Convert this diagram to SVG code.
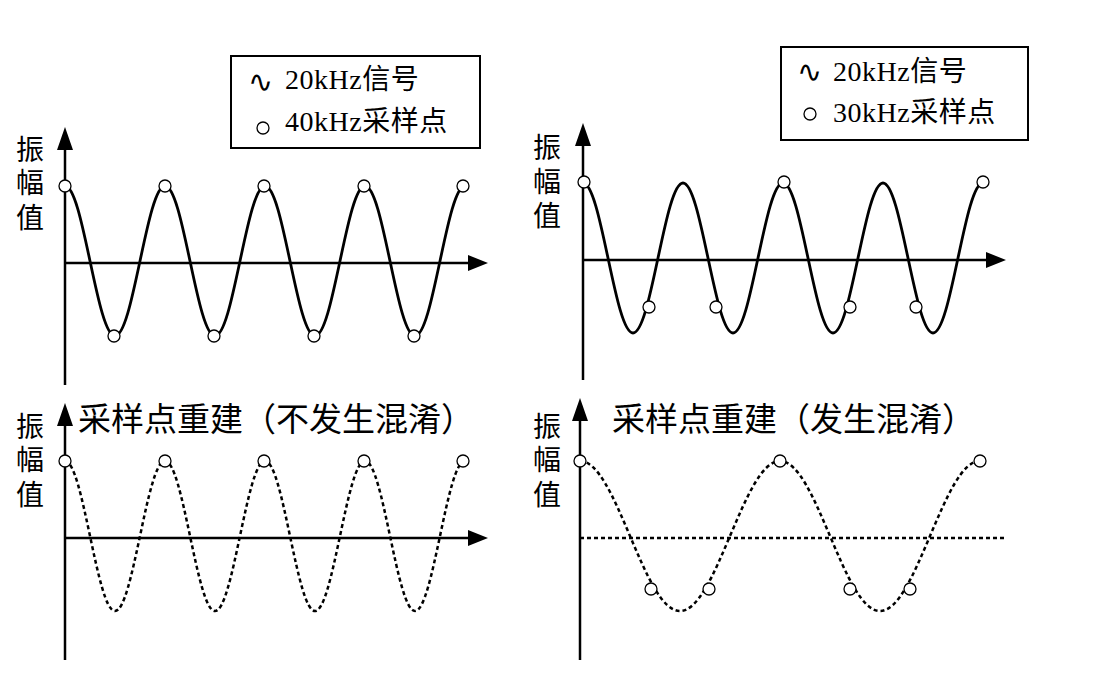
<svg xmlns="http://www.w3.org/2000/svg" xmlns:xlink="http://www.w3.org/1999/xlink" width="1110" height="676" viewBox="0 0 1110 676">
<style>
text{font-family:"Liberation Serif","Noto Sans CJK SC",serif;fill:#000}
.lab{font-size:28px}
.leg{font-size:28px;letter-spacing:0.5px}
.ttl{font-size:33px}
.wv{font-family:"DejaVu Sans",sans-serif;font-size:30px}
.ax{stroke:#000;stroke-width:2.5;fill:none}
.w{stroke:#000;stroke-width:2.8;fill:none}
.d{stroke:#000;stroke-width:2.5;fill:none;stroke-dasharray:4 3}
.c{fill:#fff;stroke:#000;stroke-width:1.3}
</style>
<defs>
<path id="s1" d="M0,-75 C9.05,-75 16.85,-38.4 25,0 S40.95,75 50,75 S66.85,38.4 75,0 S90.95,-75 100,-75 S116.85,-38.4 125,0 S140.95,75 150,75 S166.85,38.4 175,0 S190.95,-75 200,-75 S216.85,-38.4 225,0 S240.95,75 250,75 S266.85,38.4 275,0 S290.95,-75 300,-75 S316.85,-38.4 325,0 S340.95,75 350,75 S366.85,38.4 375,0 S390.95,-75 400,-75"/>
</defs>
<rect width="1110" height="676" fill="#fff"/>
<g id="connectors">
<path class="ax" d="M65,385 V145"/><path d="M57,150 L65,127 L73,150 Z"/>
<path class="ax" d="M65,263 H470"/><path d="M468,255 L488,263 L468,271 Z"/>
<path class="ax" d="M583,380 V145"/><path d="M575,146 L583,123 L591,146 Z"/>
<path class="ax" d="M583,260 H988"/><path d="M986,252 L1006,260 L986,268 Z"/>
<path class="ax" d="M65,660 V425"/><path d="M57,426 L65,403 L73,426 Z"/>
<path class="ax" d="M65,538 H470"/><path d="M468,530 L488,538 L468,546 Z"/>
<path class="ax" d="M580,660 V420"/><path d="M572,421 L580,398 L588,421 Z"/>
<path class="d" d="M580,538 H1005"/>
</g>
<g id="panel-tl">
<use xlink:href="#s1" href="#s1" class="w" transform="translate(65,261)"/>
<g class="c"><circle cx="65" cy="186" r="6"/><circle cx="165" cy="186" r="6"/><circle cx="264" cy="186" r="6"/><circle cx="364" cy="186" r="6"/><circle cx="463" cy="186" r="6"/>
<circle cx="114" cy="336" r="6"/><circle cx="214" cy="336" r="6"/><circle cx="314" cy="336" r="6"/><circle cx="414" cy="336" r="6"/></g>
<text class="lab" x="16" y="160">振</text><text class="lab" x="16" y="193">幅</text><text class="lab" x="16" y="228">值</text>
</g>
<g id="legend-l">
<rect x="231" y="56" width="249" height="92" fill="#fff" stroke="#000" stroke-width="2"/>
<text class="wv" x="248" y="92">∿</text>
<text class="leg" x="285" y="89">20kHz信号</text>
<circle class="c" cx="263" cy="128" r="6"/>
<text class="leg" x="285" y="131">40kHz采样点</text>
</g>
<g id="panel-tr">
<use xlink:href="#s1" href="#s1" class="w" transform="translate(583,258)"/>
<g class="c"><circle cx="584" cy="182" r="6"/><circle cx="784" cy="182" r="6"/><circle cx="983" cy="182" r="6"/>
<circle cx="649" cy="307" r="6"/><circle cx="716" cy="307" r="6"/><circle cx="850" cy="307" r="6"/><circle cx="916" cy="307" r="6"/></g>
<text class="lab" x="533" y="158">振</text><text class="lab" x="533" y="192">幅</text><text class="lab" x="533" y="226">值</text>
</g>
<g id="legend-r">
<rect x="781" y="47" width="247" height="93" fill="#fff" stroke="#000" stroke-width="2"/>
<text class="wv" x="797" y="82">∿</text>
<text class="leg" x="833" y="81">20kHz信号</text>
<circle class="c" cx="810" cy="114" r="6"/>
<text class="leg" x="833" y="122">30kHz采样点</text>
</g>
<g id="panel-bl">
<use xlink:href="#s1" href="#s1" class="d" transform="translate(65,536)"/>
<g class="c"><circle cx="65" cy="461" r="6"/><circle cx="165" cy="461" r="6"/><circle cx="264" cy="461" r="6"/><circle cx="364" cy="461" r="6"/><circle cx="463" cy="461" r="6"/></g>
<text class="lab" x="16" y="437">振</text><text class="lab" x="16" y="470">幅</text><text class="lab" x="16" y="505">值</text>
<text class="ttl" x="78" y="431">采样点重建（不发生混淆）</text>
</g>
<g id="panel-br">
<path class="d" transform="translate(580,536)" d="M0,-75 C18.1,-75 33.7,-38.4 50,0 S81.9,75 100,75 S133.7,38.4 150,0 S181.9,-75 200,-75 S233.7,-38.4 250,0 S281.9,75 300,75 S333.7,38.4 350,0 S381.9,-75 400,-75"/>
<g class="c"><circle cx="580" cy="461" r="6"/><circle cx="780" cy="461" r="6"/><circle cx="980" cy="461" r="6"/>
<circle cx="651" cy="589" r="6"/><circle cx="709" cy="589" r="6"/><circle cx="850" cy="589" r="6"/><circle cx="910" cy="589" r="6"/></g>
<text class="lab" x="533" y="437">振</text><text class="lab" x="533" y="470">幅</text><text class="lab" x="533" y="505">值</text>
<text class="ttl" x="612" y="431">采样点重建（发生混淆）</text>
</g>
</svg>
